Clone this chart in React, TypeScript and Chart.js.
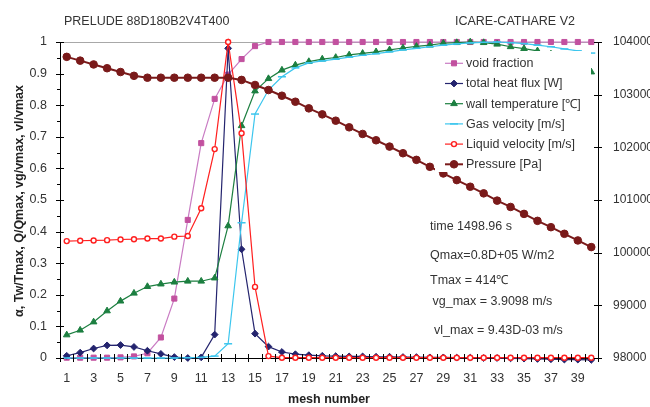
import React, { useEffect, useRef } from 'react';
import { Chart, registerables } from 'chart.js';
import { drawPoint } from 'chart.js/helpers';

Chart.register(...registerables);

// ---------- data ----------
const meshNumbers = ['1','2','3','4','5','6','7','8','9','10','11','12','13','14','15','16','17','18','19','20','21','22','23','24','25','26','27','28','29','30','31','32','33','34','35','36','37','38','39','40'];

const voidFraction = [0.001,0.001,0.001,0.001,0.002,0.005,0.015,0.065,0.188,0.437,0.68,0.82,0.897,0.946,0.987,1,1,1,1,1,1,1,1,1,1,1,1,1,1,1,1,1,1,1,1,1,1,1,1,1];

const totalHeatFlux = [0.007,0.017,0.03,0.04,0.041,0.035,0.023,0.013,0.003,0.0,0.002,0.074,0.98,0.344,0.077,0.036,0.019,0.012,0.009,0.007,0.006,0.005,0.005,0.004,0.004,0.003,0.003,0.002,0.002,0.001,0.001,0.0,0.0,-0.001,-0.002,-0.003,-0.004,-0.005,-0.005,-0.006];

const wallTemperature = [0.073,0.088,0.114,0.149,0.18,0.205,0.226,0.234,0.24,0.243,0.243,0.253,0.418,0.735,0.845,0.884,0.911,0.927,0.938,0.946,0.951,0.959,0.964,0.969,0.975,0.981,0.986,0.99,0.996,0.998,1.0,0.998,0.993,0.985,0.979,0.972,0.962,0.948,0.93,0.905];

const gasVelocity = [0,0,0,0,0,0,0,0,0,0.001,0.002,0.006,0.045,0.428,0.772,0.848,0.89,0.918,0.934,0.94,0.946,0.952,0.958,0.963,0.969,0.975,0.98,0.985,0.99,0.994,0.997,0.999,1.0,0.998,0.995,0.99,0.985,0.978,0.972,0.965];

const liquidVelocity = [0.37,0.371,0.372,0.373,0.375,0.376,0.378,0.378,0.384,0.386,0.474,0.661,1.0,0.711,0.225,0.006,0.001,0.001,0.001,0.001,0.001,0.001,0.001,0.001,0.001,0.001,0.001,0.001,0.001,0.001,0.001,0.001,0.001,0.001,0.001,0.001,0.001,0.001,0.001,0.001];

const pressure = [103718,103646,103574,103502,103430,103358,103322,103322,103322,103322,103322,103322,103322,103280,103184,103088,102980,102866,102740,102626,102506,102380,102254,102134,102014,101888,101762,101630,101504,101378,101252,101126,100988,100868,100736,100604,100484,100358,100232,100106];

const leftTicks = [0, 0.1, 0.2, 0.3, 0.4, 0.5, 0.6, 0.7, 0.8, 0.9, 1];
const rightTicks = [98000, 99000, 100000, 101000, 102000, 103000, 104000];

const titleLeft = 'PRELUDE 88D180B2V4T400';
const titleRight = 'ICARE-CATHARE V2';
const yTitle = 'α, Tw/Tmax, Q/Qmax, vg/vmax, vl/vmax';
const xTitle = 'mesh number';
const notes = ['time 1498.96 s', 'Qmax=0.8D+05 W/m2', 'Tmax = 414℃', 'vg_max = 3.9098 m/s', 'vl_max = 9.43D-03 m/s'];

const FONT = '"Liberation Sans", Arial, sans-serif';
const TXT = '#333333';

const series = [
  { label: 'void fraction', data: voidFraction, axis: 'y', line: '#C97BC3', mark: '#C2519F', fill: '#C2519F', style: 'rect', radius: 3.6, lw: 1.2, pbw: 1, order: 6 },
  { label: 'total heat flux [W]', data: totalHeatFlux, axis: 'y', line: '#24246E', mark: '#24246E', fill: '#24246E', style: 'rectRot', radius: 3.4, lw: 1.2, pbw: 1, order: 5 },
  { label: 'wall temperature [℃]', data: wallTemperature, axis: 'y', line: '#1C7F40', mark: '#1C7F40', fill: '#1C7F40', style: 'triangle', radius: 3.8, lw: 1.2, pbw: 1, order: 4 },
  { label: 'Gas velocity [m/s]', data: gasVelocity, axis: 'y', line: '#3CC6EE', mark: '#3CC6EE', fill: '#3CC6EE', style: 'line', radius: 4, lw: 1.2, pbw: 1.5, order: 3 },
  { label: 'Liquid velocity [m/s]', data: liquidVelocity, axis: 'y', line: '#FF2020', mark: '#FF2020', fill: '#FFFFFF', style: 'circle', radius: 2.5, lw: 1.2, pbw: 1.4, order: 2 },
  { label: 'Pressure [Pa]', data: pressure, axis: 'y2', line: '#7A1A1A', mark: '#7A1A1A', fill: '#7A1A1A', style: 'circle', radius: 3.8, lw: 2, pbw: 1, order: 1 },
];

const decorPlugin = {
  id: 'decor',
  afterDatasetsDraw(chart: any) {
    const ctx = chart.ctx;
    ctx.save();
    // legend box (white, covers series)
    const lx = 435, ly = 51, lw = 156, lh = 121;
    ctx.fillStyle = '#ffffff';
    ctx.fillRect(lx, ly, lw, lh);
    series.forEach((s, i) => {
      const cy = 63.3 + i * 20.2;
      ctx.strokeStyle = s.line;
      ctx.lineWidth = s.lw;
      ctx.beginPath();
      ctx.moveTo(445, cy);
      ctx.lineTo(463, cy);
      ctx.stroke();
      ctx.fillStyle = s.fill;
      ctx.strokeStyle = s.mark;
      ctx.lineWidth = s.pbw;
      drawPoint(ctx, { pointStyle: s.style, radius: s.radius, rotation: 0, borderWidth: s.pbw } as any, 454, cy);
      ctx.fillStyle = TXT;
      ctx.font = `12.5px ${FONT}`;
      ctx.textAlign = 'left';
      ctx.textBaseline = 'middle';
      ctx.fillText(s.label, 466, cy + 0.5);
    });
    ctx.restore();
  },
  afterDraw(chart: any) {
    const ctx = chart.ctx;
    const area = chart.chartArea;
    const xs = chart.scales.x;
    const ys = chart.scales.y;
    const y2 = chart.scales.y2;
    ctx.save();
    ctx.strokeStyle = '#000';
    ctx.lineWidth = 1;
    ctx.beginPath();
    // x ticks at category boundaries, crossing the axis
    const step = xs.getPixelForValue(1) - xs.getPixelForValue(0);
    for (let i = 0; i <= meshNumbers.length; i++) {
      const px = Math.round(xs.getPixelForValue(0) - step / 2 + i * step) + 0.5;
      ctx.moveTo(px, area.bottom - 4);
      ctx.lineTo(px, area.bottom + 4);
    }
    // left y major + minor ticks
    leftTicks.forEach((v) => {
      const py = Math.round(ys.getPixelForValue(v)) + 0.5;
      ctx.moveTo(area.left - 4, py);
      ctx.lineTo(area.left + 4, py);
      if (v < 1) {
        const pm = Math.round(ys.getPixelForValue(v + 0.05)) + 0.5;
        ctx.moveTo(area.left - 3, pm);
        ctx.lineTo(area.left, pm);
      }
    });
    // right y ticks
    rightTicks.forEach((v) => {
      const py = Math.round(y2.getPixelForValue(v)) + 0.5;
      ctx.moveTo(area.right - 4, py);
      ctx.lineTo(area.right + 4, py);
    });
    ctx.stroke();

    // titles
    ctx.fillStyle = TXT;
    ctx.font = `12.5px ${FONT}`;
    ctx.textBaseline = 'middle';
    ctx.textAlign = 'left';
    ctx.fillText(titleLeft, 64, 22);
    ctx.fillText(titleRight, 455, 22);

    // notes
    const noteY = [227, 256, 281, 302, 331];
    const noteX = [430, 430, 430, 432.5, 434];
    notes.forEach((t, i) => ctx.fillText(t, noteX[i], noteY[i]));

    // axis titles
    ctx.fillStyle = '#222';
    ctx.font = `bold 12.5px ${FONT}`;
    ctx.textAlign = 'center';
    ctx.fillText(xTitle, 329, 400);
    ctx.save();
    ctx.translate(23, 201);
    ctx.rotate(-Math.PI / 2);
    ctx.textBaseline = 'alphabetic';
    ctx.fillText(yTitle, 0, 0);
    ctx.restore();
    ctx.restore();
  },
};

export default function App() {
  const ref = useRef<HTMLCanvasElement | null>(null);
  useEffect(() => {
    document.body.style.margin = '0';
    const canvas = ref.current!;
    const chart = new Chart(canvas, {
      type: 'line',
      data: {
        labels: meshNumbers,
        datasets: series.map((s) => ({
          label: s.label,
          data: s.data,
          yAxisID: s.axis,
          borderColor: s.line,
          backgroundColor: s.fill,
          borderWidth: s.lw,
          pointStyle: s.style as any,
          pointRadius: s.radius,
          pointBackgroundColor: s.fill,
          pointBorderColor: s.mark,
          pointBorderWidth: s.pbw,
          tension: 0,
          fill: false,
          clip: false as any,
          order: s.order,
        })),
      },
      options: {
        animation: false,
        responsive: false,
        devicePixelRatio: 1,
        layout: { padding: { top: 42, left: 0, right: 0, bottom: 0 } },
        plugins: { legend: { display: false }, tooltip: { enabled: false }, title: { display: false } },
        scales: {
          x: {
            type: 'category',
            offset: true,
            grid: { display: false, drawTicks: false },
            border: { display: true, color: '#000', width: 1 },
            ticks: {
              autoSkip: false,
              maxRotation: 0,
              padding: 13,
              color: TXT,
              font: { family: FONT, size: 12.5 },
              callback: (_v: any, i: number) => (i % 2 === 0 ? meshNumbers[i] : ''),
            },
            afterFit: (sc: any) => { sc.height = 49; },
          },
          y: {
            position: 'left',
            min: 0,
            max: 1,
            afterBuildTicks: (sc: any) => { sc.ticks = leftTicks.map((v) => ({ value: v })); },
            grid: {
              drawTicks: false,
              color: (c: any) => (c.tick && Math.abs(c.tick.value - 1) < 1e-9 ? '#A8A8A8' : 'rgba(0,0,0,0)'),
            },
            border: { display: true, color: '#000', width: 1 },
            ticks: {
              padding: 13,
              color: TXT,
              font: { family: FONT, size: 12.5 },
              callback: (v: any) => String(Math.round(v * 10) / 10),
            },
            afterFit: (sc: any) => { sc.width = 60; },
          },
          y2: {
            position: 'right',
            min: 98000,
            max: 104000,
            afterBuildTicks: (sc: any) => { sc.ticks = rightTicks.map((v) => ({ value: v })); },
            grid: { display: false, drawTicks: false },
            border: { display: true, color: '#000', width: 1 },
            ticks: {
              padding: 15,
              color: TXT,
              font: { family: FONT, size: 12 },
              callback: (v: any) => String(v),
            },
            afterFit: (sc: any) => { sc.width = 52; },
          },
        },
      } as any,
      plugins: [decorPlugin],
    });
    return () => chart.destroy();
  }, []);
  return (
    <div style={{ width: 650, height: 407 }}>
      <canvas ref={ref} width={650} height={407} style={{ display: 'block' }} />
    </div>
  );
}
